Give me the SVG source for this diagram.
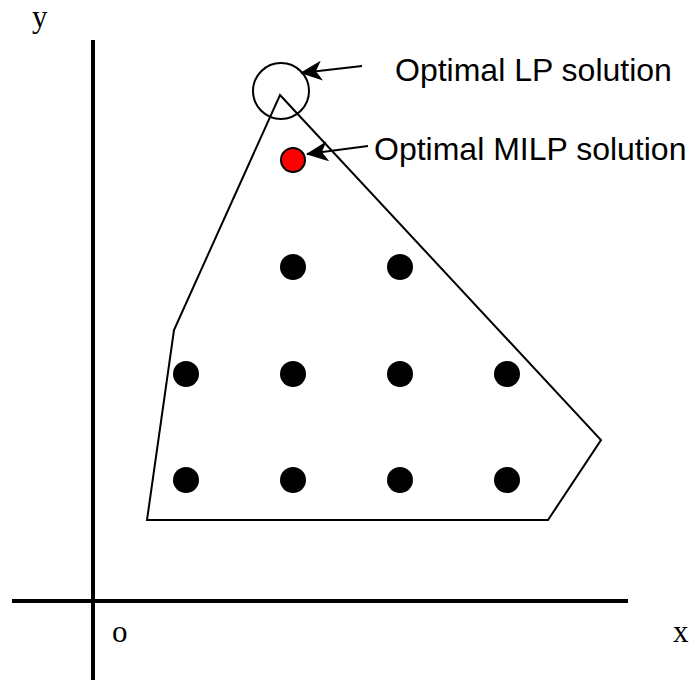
<svg xmlns="http://www.w3.org/2000/svg" width="691" height="680" viewBox="0 0 691 680">
<style>
.ax{stroke:#000;stroke-width:4;fill:none}
.ln{stroke:#000;stroke-width:2;fill:none}
.pt{fill:#000}
.lbl{font-family:"Liberation Sans",Arial,sans-serif;font-size:32px;fill:#000}
.axl{font-family:"Liberation Serif","Times New Roman",serif;font-size:31px;fill:#000}
</style>
<defs>
<marker id="ah" viewBox="0 0 22 20" refX="21" refY="10" markerWidth="22" markerHeight="20" markerUnits="userSpaceOnUse" orient="auto">
<path d="M0,0 L22,10 L0,20 L6,10 Z" fill="#000"/>
</marker>
</defs>
<rect width="691" height="680" fill="#fff"/>
<g id="axes">
<line class="ax" x1="93" y1="40" x2="93" y2="680"/>
<line class="ax" x1="12" y1="601" x2="628" y2="601"/>
<text class="axl" x="32" y="27">y</text>
<text class="axl" x="112" y="642">o</text>
<text class="axl" x="673" y="642">x</text>
</g>
<g id="region">
<path class="ln" d="M280,95 L601,440 L548,520 L147,520 L174,330 Z"/>
</g>
<g id="lp">
<circle class="ln" cx="281" cy="91" r="28"/>
<text class="lbl" x="395" y="81">Optimal LP solution</text>
</g>
<g id="milp">
<circle cx="293" cy="160" r="12" fill="#f00" stroke="#000" stroke-width="2"/>
<text class="lbl" x="374" y="160">Optimal MILP solution</text>
</g>
<g id="points">
<circle class="pt" cx="293" cy="267" r="13"/>
<circle class="pt" cx="400" cy="267" r="13"/>
<circle class="pt" cx="186" cy="374" r="13"/>
<circle class="pt" cx="293" cy="374" r="13"/>
<circle class="pt" cx="400" cy="374" r="13"/>
<circle class="pt" cx="507" cy="374" r="13"/>
<circle class="pt" cx="186" cy="480" r="13"/>
<circle class="pt" cx="293" cy="480" r="13"/>
<circle class="pt" cx="400" cy="480" r="13"/>
<circle class="pt" cx="507" cy="480" r="13"/>
</g>
<g id="connectors">
<line class="ln" x1="362" y1="66" x2="301" y2="73" marker-end="url(#ah)"/>
<line class="ln" x1="368" y1="146" x2="307" y2="154" marker-end="url(#ah)"/>
</g>
</svg>
